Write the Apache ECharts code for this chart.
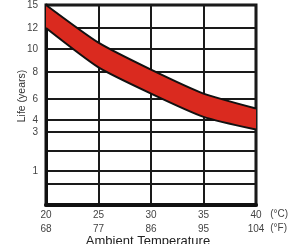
<!DOCTYPE html>
<html>
<head>
<meta charset="utf-8">
<script src="https://cdn.jsdelivr.net/npm/echarts@6/dist/echarts.min.js"></script>
<style>
html,body{margin:0;padding:0;background:#fff}
#chart{width:296px;height:244px}
</style>
</head>
<body>
<div id="chart"></div>
<script>
var tempC = [20, 25, 30, 35, 40];
var tempF = [68, 77, 86, 95, 104];
var lifeUpper = [15, 10.6, 8.2, 6.4, 5.1];
var lifeLower = [12, 8.4, 6.4, 4.3, 3.2];
// the life scale on the sheet is not linear: labelled years and their place on a 0-200 axis
var scaleYears = [1, 3, 4, 6, 8, 10, 12, 15];
var scalePos = [34, 73, 85, 106, 133, 156, 177, 200];
var extraLinePos = [0, 21, 54];

function lifeToPos(v){
	for(var i=0;i<scaleYears.length-1;i++){
		if(v <= scaleYears[i+1]){
			var t = (v - scaleYears[i]) / (scaleYears[i+1] - scaleYears[i]);
			return scalePos[i] + t * (scalePos[i+1] - scalePos[i]);
		}
	}
	return scalePos[scalePos.length-1];
}

var lowerData = [];
var bandData = [];
for(var i=0;i<tempC.length;i++){
	var lo = lifeToPos(lifeLower[i]);
	var hi = lifeToPos(lifeUpper[i]);
	lowerData.push(lo);
	bandData.push(hi - lo);
}

var myChart = echarts.init(document.getElementById('chart'));
var font = 'Liberation Sans, Arial, sans-serif';

option = {
	animation: false,
	title: {
		text: 'Ambient Temperature',
		left: 'center',
		top: 235,
		padding: 0,
		textStyle: {fontSize: 13, fontWeight: 'normal', color: '#222', fontFamily: font}
	},
	grid: {
		left: 46, right: 40, top: 5, bottom: 39,
		show: true, borderColor: '#111', borderWidth: 3
	},
	xAxis: {
		type: 'category',
		data: tempC,
		boundaryGap: false,
		name: '(°C)\n(°F)',
		nameLocation: 'end',
		nameGap: 5,
		nameTextStyle: {fontSize: 10, color: '#444', fontFamily: font, lineHeight: 14, verticalAlign: 'top', padding: [2,0,0,0]},
		axisLine: {show: true, lineStyle: {color: '#111', width: 4}},
		axisTick: {show: false},
		splitLine: {show: true, lineStyle: {color: '#1a1a1a', width: 2}},
		axisLabel: {
			margin: 3,
			interval: 0,
			fontSize: 10, lineHeight: 14, color: '#444', fontFamily: font,
			formatter: function(v, idx){
				return v + '\n' + tempF[idx];
			}
		}
	},
	yAxis: {
		type: 'value',
		min: 0, max: 200,
		name: 'Life (years)',
		nameLocation: 'middle',
		nameGap: 18,
		nameMoveOverlap: false,
		nameTextStyle: {fontSize: 10.5, color: '#333', fontFamily: font, padding: [0,0,0,18]},
		axisLine: {show: true, lineStyle: {color: '#111', width: 3}},
		axisTick: {show: false, customValues: extraLinePos.concat(scalePos)},
		splitLine: {show: true, lineStyle: {color: '#1a1a1a', width: 2}},
		axisLabel: {
			customValues: scalePos,
			margin: 8,
			fontSize: 10, color: '#444', fontFamily: font,
			formatter: function(v){
				var idx = scalePos.indexOf(v);
				return idx >= 0 ? String(scaleYears[idx]) : '';
			}
		}
	},
	series: [
		{
			name: 'lower',
			type: 'line',
			stack: 'life',
			data: lowerData,
			symbol: 'none',
			smooth: 0.2,
			lineStyle: {color: '#111', width: 2},
			z: 3
		},
		{
			name: 'band',
			type: 'line',
			stack: 'life',
			data: bandData,
			symbol: 'none',
			smooth: 0.2,
			lineStyle: {color: '#111', width: 2},
			areaStyle: {color: '#da2a1f', opacity: 1},
			z: 2
		}
	]
};
myChart.setOption(option);
</script>
</body>
</html>
